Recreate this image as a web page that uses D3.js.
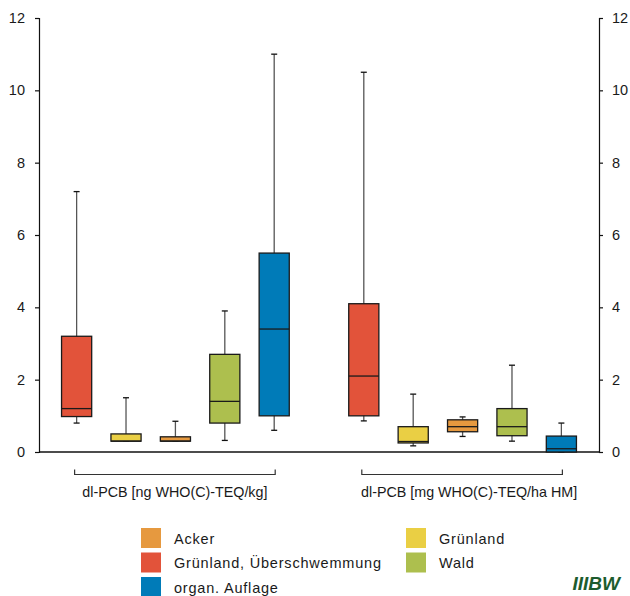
<!DOCTYPE html>
<html><head><meta charset="utf-8">
<script src="https://cdn.jsdelivr.net/npm/d3@7"></script>
<style>
body{margin:0;background:#fff;}
text{font-family:"Liberation Sans",Arial,sans-serif;fill:#1a1a1a;}
</style></head>
<body><svg id="c" width="630" height="596"></svg>
<script>
const groups = ["dl-PCB [ng WHO(C)-TEQ/kg]", "dl-PCB [mg WHO(C)-TEQ/ha HM]"];
const categories = ["Grünland, Überschwemmung", "Grünland", "Acker", "Wald", "organ. Auflage"];
const colors = ["#E2533A", "#EACF44", "#E6993F", "#ADBF4E", "#007BB8"];
// per group, per category: [whiskerLow, q1, median, q3, whiskerHigh]
const statsNg = [
  [0.8, 0.98, 1.2, 3.2, 7.2],
  [0.3, 0.3, 0.3, 0.5, 1.5],
  [0.3, 0.3, 0.3, 0.42, 0.85],
  [0.32, 0.8, 1.4, 2.7, 3.9],
  [0.6, 1.0, 3.4, 5.5, 11.0]
];
const statsMg = [
  [0.86, 1.0, 2.1, 4.1, 10.5],
  [0.17, 0.25, 0.29, 0.7, 1.6],
  [0.43, 0.56, 0.7, 0.89, 0.97],
  [0.3, 0.45, 0.7, 1.2, 2.4],
  [0.0, 0.0, 0.09, 0.44, 0.8]
];
const yTicks = [0, 2, 4, 6, 8, 10, 12];
const legendOrder = ["Acker", "Grünland", "Grünland, Überschwemmung", "Wald", "organ. Auflage"];

const svg = d3.select("#c");
const mLeft = 39, mRight = 599, mTop = 18, mBottom = 452;
const y = d3.scaleLinear().domain([0, 12]).range([mBottom, mTop]);
const xg = d3.scaleBand().domain(groups).range([mLeft, mRight]).paddingInner(0.14).paddingOuter(0.045);
const xc = d3.scaleBand().domain(categories).range([0, xg.bandwidth()]).paddingInner(0.39).paddingOuter(0.195);
const color = d3.scaleOrdinal().domain(categories).range(colors);

// axes
const yl = svg.append("g").attr("transform", `translate(${mLeft},0)`)
  .call(d3.axisLeft(y).tickValues(yTicks).tickSize(4).tickPadding(10));
const yr = svg.append("g").attr("transform", `translate(${mRight},0)`)
  .call(d3.axisRight(y).tickValues(yTicks).tickSize(4).tickPadding(9));
[yl, yr].forEach(g => {
  g.select(".domain").attr("stroke", "#111").attr("stroke-width", 1.2);
  g.selectAll(".tick line").attr("stroke", "#111").attr("stroke-width", 1.2);
  g.selectAll(".tick text").style("font-size", "14.5px").attr("fill", "#1a1a1a")
    .style("font-family", '"Liberation Sans",Arial,sans-serif');
});
svg.append("line").attr("x1", mLeft).attr("x2", mRight).attr("y1", y(0)).attr("y2", y(0))
  .attr("stroke", "#111").attr("stroke-width", 1.4);

const data = [];
[statsNg, statsMg].forEach((st, gi) => st.forEach((s, ci) => data.push({g: groups[gi], c: categories[ci], s})));

const bw = xc.bandwidth();
const box = svg.append("g").selectAll("g").data(data).join("g")
  .attr("transform", d => `translate(${xg(d.g) + xc(d.c)},0)`);
// whisker
box.append("line").attr("x1", bw/2).attr("x2", bw/2)
  .attr("y1", d => y(d.s[0])).attr("y2", d => y(d.s[4]))
  .attr("stroke", "#555").attr("stroke-width", 1.3);
box.append("line").attr("x1", bw/2 - 3).attr("x2", bw/2 + 3)
  .attr("y1", d => y(d.s[4])).attr("y2", d => y(d.s[4]))
  .attr("stroke", "#111").attr("stroke-width", 1.3);
box.append("line").attr("x1", bw/2 - 3).attr("x2", bw/2 + 3)
  .attr("y1", d => y(d.s[0])).attr("y2", d => y(d.s[0]))
  .attr("stroke", "#111").attr("stroke-width", 1.3);
box.append("rect").attr("x", 0).attr("width", bw)
  .attr("y", d => y(d.s[3])).attr("height", d => y(d.s[1]) - y(d.s[3]))
  .attr("fill", d => color(d.c)).attr("stroke", "#1a1a1a").attr("stroke-width", 1.3);
box.append("line").attr("x1", 0).attr("x2", bw)
  .attr("y1", d => y(d.s[2])).attr("y2", d => y(d.s[2]))
  .attr("stroke", "#1a1a1a").attr("stroke-width", 1.3);

// group brackets and labels
const labelShift = [0, 7];
const br = svg.append("g").selectAll("g").data(groups).join("g");
const bx1 = g => xg(g) + xc(categories[0]) + bw/2 - 2;
const bx2 = g => xg(g) + xc(categories[4]) + bw/2 + 1;
br.append("path").attr("d", g => `M${bx1(g)},469.5V474.5H${bx2(g)}V469.5`)
  .attr("fill", "none").attr("stroke", "#333").attr("stroke-width", 1.2);
br.append("text").attr("x", (g, i) => (bx1(g) + bx2(g)) / 2 + labelShift[i]).attr("y", 497)
  .attr("text-anchor", "middle").style("font-size", "14.3px").text(g => g);

// legend
const legPos = [[141, 528], [406, 528], [141, 552.5], [406, 552.5], [141, 577]];
const lg = svg.append("g").selectAll("g").data(legendOrder).join("g")
  .attr("transform", (d, i) => `translate(${legPos[i][0]},${legPos[i][1]})`);
lg.append("rect").attr("width", 20).attr("height", 20).attr("fill", d => color(d));
lg.append("text").attr("x", 33).attr("y", 15.5).style("font-size", "14.5px").style("letter-spacing", "0.8px").text(d => d);

// logo
svg.append("text").attr("x", 620).attr("y", 590).attr("text-anchor", "end")
  .style("font-size", "19px").style("font-weight", "bold").style("font-style", "italic")
  .style("fill", "#1d5c2e").text("IIIBW");
</script></body></html>
